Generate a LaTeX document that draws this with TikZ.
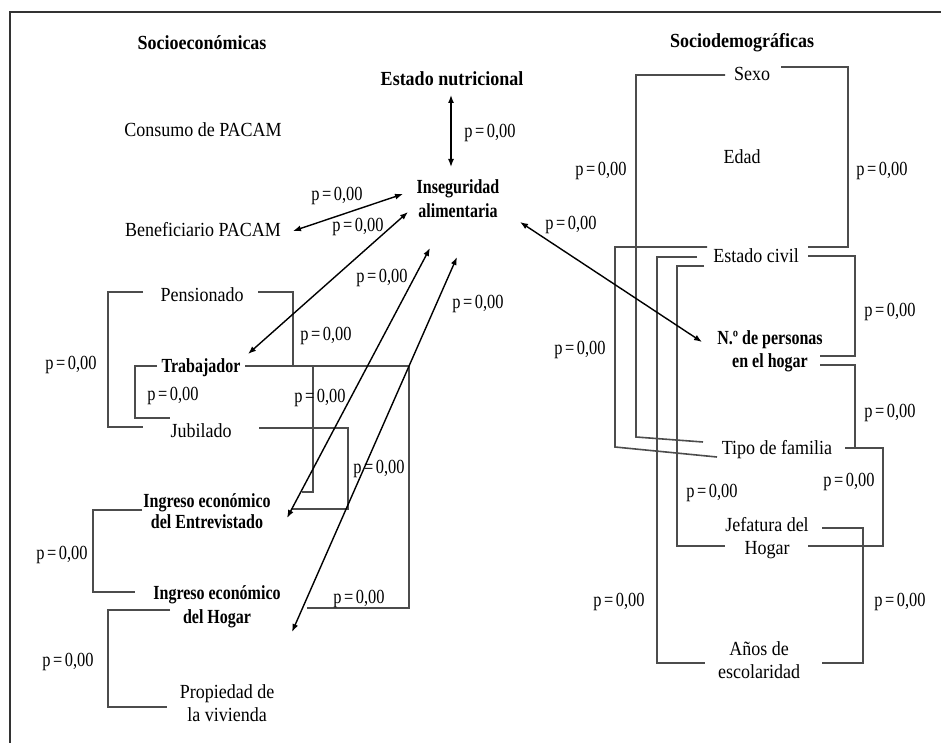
\documentclass[tikz,border=0pt]{standalone}
\usepackage{fontspec}
\setmainfont{Liberation Serif}[FakeStretch=0.9]
\newfontface\condbf{Liberation Serif Bold}[FakeStretch=0.8]
\newfontface\condp{Liberation Serif}[FakeStretch=0.82]
\usetikzlibrary{arrows.meta}
\begin{document}
\begin{tikzpicture}[x=1pt,y=-1pt,
  lab/.style={font=\fontsize{20}{23}\selectfont, inner sep=0pt, text height=13pt, text depth=0pt, align=center},
  hd/.style={lab, font=\fontsize{20}{23}\selectfont\bfseries},
  bl/.style={lab, font=\fontsize{20}{23}\selectfont\condbf},
  pv/.style={lab, font=\fontsize{20}{23}\selectfont\condp},
  brk/.style={draw=black!70, line width=1.6pt},
  arr/.style={draw=black, line width=1.4pt, {Latex[length=8pt,width=6pt]}-{Latex[length=8pt,width=6pt]}},
  frame/.style={draw=black!80, line width=1.5pt}]
\useasboundingbox (0,0) rectangle (941,743);
\draw[frame] (10,743) -- (10,12) -- (941,12);

% headers
\node[hd] (hse) at (202,43) {Socioeconómicas};
\node[hd] (hsd) at (742,41) {Sociodemográficas};

% left variables (two-line nodes are placed at their last line)
\node[lab] (cons) at (203,130) {Consumo de PACAM};
\node[lab] (benef) at (203,230) {Beneficiario PACAM};
\node[hd] (estn) at (452,79) {Estado nutricional};
\node[bl, font=\fontsize{20}{24}\selectfont\condbf] (inseg) at (458,211) {Inseguridad\\alimentaria};
\node[lab] (pens) at (202,295) {Pensionado};
\node[bl] (trab) at (201,366) {Trabajador};
\node[lab] (jub) at (201,431) {Jubilado};
\node[bl, font=\fontsize{20}{21}\selectfont\condbf] (ient) at (207,522) {Ingreso económico\\del Entrevistado};
\node[bl, font=\fontsize{20}{24}\selectfont\condbf] (ihog) at (217,617) {Ingreso económico\\del Hogar};
\node[lab] (prop) at (227,715) {Propiedad de\\la vivienda};

% right variables
\node[lab] (sexo) at (752,74) {Sexo};
\node[lab] (edad) at (742,157) {Edad};
\node[lab] (ecivil) at (756,256) {Estado civil};
\node[bl] (npers) at (770,361) {N.º de personas\\en el hogar};
\node[lab] (tipo) at (777,448) {Tipo de familia};
\node[lab] (jef) at (767,548) {Jefatura del\\Hogar};
\node[lab] (anos) at (759,672) {Años de\\escolaridad};

% brackets left
\draw[brk] (143,292) -- (108,292) -- (108,427) -- (143,427);
\draw[brk] (157,366) -- (135,366) -- (135,418) -- (170,418);
\draw[brk] (258,292) -- (293,292) -- (293,366);
\draw[brk] (245,366) -- (410,366);
\draw[brk] (313,366) -- (313,492) -- (302,492);
\draw[brk] (259,428) -- (348,428) -- (348,509) -- (292,509);
\draw[brk] (409,366) -- (409,608) -- (307,608);
\draw[brk] (142,510) -- (93,510) -- (93,592) -- (135,592);
\draw[brk] (170,610) -- (108,610) -- (108,707) -- (167,707);

% brackets right
\draw[brk] (725,75) -- (636,75) -- (636,437) -- (703,442);
\draw[brk] (781,67) -- (848,67) -- (848,247) -- (808,247);
\draw[brk] (707,247) -- (615,247) -- (615,447) -- (717,457);
\draw[brk] (697,257) -- (657,257) -- (657,663) -- (705,663);
\draw[brk] (704,266) -- (677,266) -- (677,546) -- (725,546);
\draw[brk] (808,256) -- (855,256) -- (855,356) -- (820,356);
\draw[brk] (820,365) -- (855,365) -- (855,448);
\draw[brk] (845,448) -- (883,448) -- (883,546) -- (808,546);
\draw[brk] (822,528) -- (863,528) -- (863,663) -- (822,663);

% arrow end points
\coordinate (a1) at (451,95);   \coordinate (a2) at (451,167);
\coordinate (b1) at (293,231);  \coordinate (b2) at (403,194);
\coordinate (c1) at (248,354);  \coordinate (c2) at (408,212);
\coordinate (d1) at (287,518);  \coordinate (d2) at (430,248);
\coordinate (e1) at (292,632);  \coordinate (e2) at (457,257);
\coordinate (f1) at (520,222);  \coordinate (f2) at (702,342);
\draw[arr] (a1) -- (a2);
\draw[arr] (b1) -- (b2);
\draw[arr] (c1) -- (c2);
\draw[arr] (d1) -- (d2);
\draw[arr] (e1) -- (e2);
\draw[arr] (f1) -- (f2);

% p-values
\foreach \px/\py [count=\i] in {490/131, 337/194, 358/225, 382/276, 478/302, 326/334, 320/396, 379/467, 359/597, 71/363, 173/394, 62/553, 68/660, 571/223, 601/169, 882/169, 890/310, 580/348, 890/411, 849/480, 712/491, 619/600, 900/600}
  \node[pv] (p\i) at (\px,\py) {p\hspace{2.5pt}=\hspace{2.5pt}0,00};
\end{tikzpicture}
\end{document}
